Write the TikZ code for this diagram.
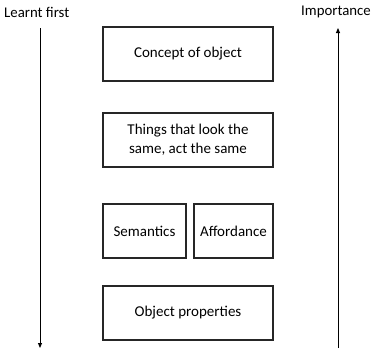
\documentclass[tikz,border=0pt]{standalone}
\usepackage{fontspec}
\setmainfont{Carlito}
\usetikzlibrary{arrows.meta}
\begin{document}
\begin{tikzpicture}[x=1pt,y=-1pt,
  box/.style={draw=black!85,line width=1.2pt,minimum height=54pt,align=center,inner sep=0pt,font=\fontsize{15}{19}\selectfont},
  lbl/.style={font=\fontsize{14.8}{18}\selectfont,inner sep=0pt},
  axis/.style={line width=0.9pt,-{Triangle[length=5pt,width=4pt]}}]
\useasboundingbox (0,0) rectangle (372,349);
\node[box,minimum width=170pt] (concept) at (188,54) {Concept of object};
\node[box,minimum width=170pt] (things) at (188,140) {Things that look the\\same, act the same};
\node[box,minimum width=83pt] (sem) at (144.5,231) {Semantics};
\node[box,minimum width=79pt] (aff) at (233.5,231) {Affordance};
\node[box,minimum width=170pt] (prop) at (188,313) {Object properties};
\node[lbl,anchor=west] (learnt) at (4,12) {Learnt first};
\node[lbl,anchor=east] (imp) at (371,12) {Importance};
\coordinate (ltop) at (40,28);
\coordinate (lbot) at (40,348);
\coordinate (rtop) at (338,28);
\coordinate (rbot) at (338,348);
\draw[axis] (ltop) -- (lbot);
\draw[axis] (rbot) -- (rtop);
\end{tikzpicture}
\end{document}
